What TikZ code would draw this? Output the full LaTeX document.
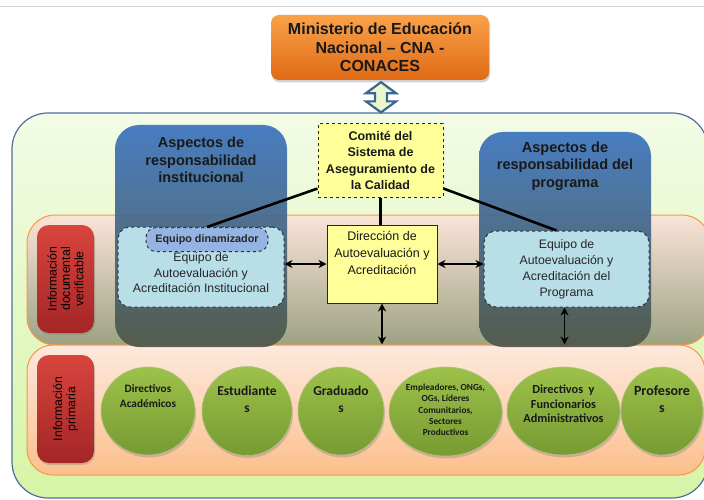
\documentclass[tikz,border=0pt]{standalone}
\usepackage{fontspec}
\setmainfont{Liberation Sans}
\newfontfamily\calfont{Carlito}
\usetikzlibrary{calc,shadows,arrows.meta,shapes.geometric}
\definecolor{orgtop}{HTML}{F9A24A}
\definecolor{orgbot}{HTML}{E06A14}
\definecolor{outerborder}{HTML}{4F6E9E}
\definecolor{outertop}{HTML}{F3FBE6}
\definecolor{outerbot}{HTML}{D6F5A6}
\definecolor{bandborder}{HTML}{F79646}
\definecolor{midtop}{HTML}{FAE4D8}
\definecolor{midbot}{HTML}{9DA283}
\definecolor{lowtop}{HTML}{FDE9DD}
\definecolor{lowbot}{HTML}{FCBF8C}
\definecolor{redtop}{HTML}{D9443E}
\definecolor{redbot}{HTML}{A32626}
\definecolor{bluetop}{HTML}{3A73BE}
\definecolor{bluemid}{HTML}{5478A0}
\definecolor{bluebot}{HTML}{4E5648}
\definecolor{yel}{HTML}{FFFF99}
\definecolor{ltblue}{HTML}{B8DEE8}
\definecolor{dinblue}{HTML}{95B3E3}
\definecolor{grtop}{HTML}{9DC24A}
\definecolor{grbot}{HTML}{779A32}
\definecolor{arrfill}{HTML}{EAF8CC}
\definecolor{arrborder}{HTML}{3A6595}
\tikzset{
  box/.style={rectangle,inner sep=0pt,anchor=center},
  band/.style={box,draw=bandborder,line width=1pt,rounded corners=28pt},
  redlabel/.style={box,rounded corners=12pt,top color=redtop,bottom color=redbot,
     drop shadow={opacity=0.35,shadow xshift=1pt,shadow yshift=-2pt}},
  bluecol/.style={box,rounded corners=24pt,top color=bluetop,middle color=bluemid,bottom color=bluebot,opacity=0.92},
  circ/.style={ellipse,inner sep=0pt,anchor=center,top color=grtop,bottom color=grbot,
     draw=grtop!80!black!60,line width=0.6pt,
     drop shadow={opacity=0.35,shadow xshift=1pt,shadow yshift=-2.5pt}},
  ctext/.style={font=\calfont\bfseries,align=center,text=black!90,inner sep=0pt},
  equipo/.style={box,rounded corners=12pt,fill=ltblue,draw=black!80,dashed,line width=1pt,
     font=\fontsize{12.3}{15.5}\selectfont,align=center,text=black!85},
  conn/.style={line width=2.6pt,black},
  dbl/.style={line width=1.8pt,black,{Stealth[length=8pt,width=8pt]}-{Stealth[length=8pt,width=8pt]}},
  head/.style={font=\fontsize{14.5}{17.5}\selectfont\bfseries,align=center,text=black!90,inner sep=0pt},
  vlabel/.style={rotate=90,font=\fontsize{12.3}{13.3}\selectfont,align=center,text=black,inner sep=0pt}
}
\begin{document}
\begin{tikzpicture}[x=1pt,y=-1pt]
\useasboundingbox (0,0) rectangle (704,500);
\fill[white] (0,0) rectangle (704,500);
\draw[black!18,line width=1pt] (0,7) -- (704,7);
% outer container
\node[box,rounded corners=36pt,top color=outertop,bottom color=outerbot,draw=outerborder,line width=1.2pt,
  minimum width=696pt,minimum height=385pt] (outer) at (360,305.5) {};
% bands
\node[band,top color=midtop,bottom color=midbot,minimum width=683pt,minimum height=130pt] (mid) at (368.5,280) {};
\node[band,top color=lowtop,bottom color=lowbot,minimum width=678pt,minimum height=130pt,rounded corners=26pt] (low) at (366,410) {};
% blue columns
\node[bluecol,minimum width=172pt,minimum height=222pt] (colL) at (201,236) {};
\node[bluecol,minimum width=172pt,minimum height=215pt] (colR) at (565,239.5) {};
\node[head] (headL) at (201,160) {Aspectos de\\responsabilidad\\institucional};
\node[head] (headR) at (565,166) {Aspectos de\\responsabilidad del\\programa};
% red labels
\node[redlabel,minimum width=57pt,minimum height=108pt] (redA) at (65.5,279) {};
\node[vlabel] (redAt) at (redA) {Información\\documental\\verificable};
\node[redlabel,minimum width=57pt,minimum height=108pt] (redB) at (65.5,409) {};
\node[vlabel] (redBt) at (redB) {Información\\primaria};
% ministry
\node[box,rounded corners=8pt,top color=orgtop,bottom color=orgbot,minimum width=218pt,minimum height=65pt,
  font=\fontsize{16}{18.5}\selectfont\bfseries,align=center,text=black!90,
  drop shadow={opacity=0.35,shadow xshift=1pt,shadow yshift=-2.5pt}] (mine) at (380,47.5)
  {Ministerio de Educación\\Nacional – CNA -\\CONACES};
% block double arrow between ministry and container
\coordinate (atop) at ($(mine.south)+(1,2)$);
\coordinate (abot) at ($(outer.north)+(21,0)$);
\draw[arrborder,line width=2.2pt,fill=arrfill,line join=miter]
  (atop) -- ($(atop)+(15,11)$) -- ($(atop)+(6,11)$) -- ($(abot)+(6,-11)$) -- ($(abot)+(15,-11)$)
  -- (abot) -- ($(abot)+(-15,-11)$) -- ($(abot)+(-6,-11)$) -- ($(atop)+(-6,11)$) -- ($(atop)+(-15,11)$) -- cycle;
% committee and direction
\node[box,fill=yel,draw=black!85,dashed,line width=1pt,minimum width=125pt,minimum height=73pt,
  font=\fontsize{12.5}{16.5}\selectfont\bfseries,align=center,text=black!90] (comite) at (380.5,160.5)
  {Comité del\\Sistema de\\Aseguramiento de\\la Calidad};
\node[box,fill=yel,draw=black!85,line width=1pt,minimum width=110pt,minimum height=78pt] (dir) at (382,264) {};
\node[font=\fontsize{12.5}{17}\selectfont,align=center,text=black!90,inner sep=0pt] (dirt) at (382,253)
  {Dirección de\\Autoevaluación y\\Acreditación};
% equipos
\node[equipo,minimum width=166pt,minimum height=80pt] (eqL) at (201,267) {};
\node[font=\fontsize{12.3}{15.5}\selectfont,align=center,text=black!85,inner sep=0pt] (eqLt) at (201,273)
  {Equipo de\\Autoevaluación y\\Acreditación Institucional};
\node[box,rounded corners=10pt,fill=dinblue,draw=black!80,dashed,line width=1pt,minimum width=122pt,minimum height=24pt,
  font=\fontsize{10.8}{12}\selectfont\bfseries,text=black!85] (din) at (207,239.5) {Equipo dinamizador};
\node[equipo,minimum width=165pt,minimum height=76pt] (eqR) at (566.5,269) {};
\node[font=\fontsize{12.3}{16}\selectfont,align=center,text=black!85,inner sep=0pt] (eqRt) at (566.5,269)
  {Equipo de\\Autoevaluación y\\Acreditación del\\Programa};
% connectors
\draw[conn] (comite.204) -- (din.north);
\draw[conn] (comite.336) -- ($(eqR.north)+(-10,0)$);
\draw[line width=3pt] (comite.south) -- (comite.south |- dir.north);
\draw[dbl] (dir.west -| eqL.east) -- (dir.west);
\draw[dbl] (dir.east) -- (dir.east -| eqR.west);
\draw[dbl] (dir.south) -- (dir.south |- low.north);
\coordinate (eqRs) at ($(eqR.south)+(-2,0)$);
\draw[dbl] (eqRs) -- (eqRs |- low.north);
% circles
\node[circ,minimum width=94pt,minimum height=88pt] (c1) at (148,411) {};
\node[circ,minimum width=90pt,minimum height=89pt] (c2) at (247,411) {};
\node[circ,minimum width=86pt,minimum height=88pt] (c3) at (341,411) {};
\node[circ,minimum width=113pt,minimum height=89pt] (c4) at (445.5,411.5) {};
\node[circ,minimum width=113pt,minimum height=88pt] (c5) at (563.5,411) {};
\node[circ,minimum width=82pt,minimum height=88pt] (c6) at (662,411) {};
\node[ctext,font=\calfont\bfseries\fontsize{11.3}{14.5}\selectfont] (t1) at (148,396) {Directivos\\Académicos};
\node[ctext,font=\calfont\bfseries\fontsize{13.5}{17}\selectfont] (t2) at (247,399) {Estudiante\\s};
\node[ctext,font=\calfont\bfseries\fontsize{13.5}{17}\selectfont] (t3) at (341,399) {Graduado\\s};
\node[ctext,font=\calfont\bfseries\fontsize{9.3}{11.3}\selectfont] (t4) at (445.5,410) {Empleadores, ONGs,\\OGs, Líderes\\Comunitarios,\\Sectores\\Productivos};
\node[ctext,font=\calfont\bfseries\fontsize{12.3}{14.5}\selectfont] (t5) at (563.5,404) {Directivos~ y\\Funcionarios\\Administrativos};
\node[ctext,font=\calfont\bfseries\fontsize{14}{17}\selectfont] (t6) at (662,399) {Profesore\\s};
\end{tikzpicture}
\end{document}
